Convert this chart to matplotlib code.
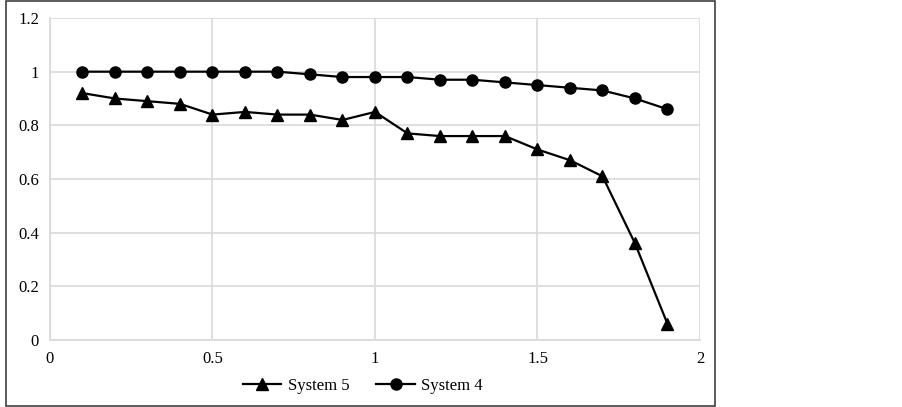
import matplotlib.pyplot as plt
from matplotlib.patches import Rectangle

# ------------------------------
# Data
# ------------------------------
x_vals = [0.1, 0.2, 0.3, 0.4, 0.5, 0.6, 0.7, 0.8, 0.9, 1.0,
          1.1, 1.2, 1.3, 1.4, 1.5, 1.6, 1.7, 1.8, 1.9]
system5 = [0.92, 0.90, 0.89, 0.88, 0.84, 0.85, 0.84, 0.84, 0.82, 0.85,
           0.77, 0.76, 0.76, 0.76, 0.71, 0.67, 0.61, 0.36, 0.06]
system4 = [1.00, 1.00, 1.00, 1.00, 1.00, 1.00, 1.00, 0.99, 0.98, 0.98,
           0.98, 0.97, 0.97, 0.96, 0.95, 0.94, 0.93, 0.90, 0.86]
x_ticks = [0, 0.5, 1, 1.5, 2]
y_ticks = [0, 0.2, 0.4, 0.6, 0.8, 1.0, 1.2]
y_labels = ["0", "0.2", "0.4", "0.6", "0.8", "1", "1.2"]
x_labels = ["0", "0.5", "1", "1.5", "2"]

plt.rcParams['font.family'] = ['Liberation Serif', 'DejaVu Serif']

fig = plt.figure(figsize=(9.03, 4.07), dpi=100)
ax = fig.add_axes([50 / 903, 67 / 407, 650 / 903, 322 / 407])

# chart border like the Excel chart area
fig.patches.append(Rectangle((6 / 903, 1 / 407), 709 / 903, 405 / 407,
                             transform=fig.transFigure, fill=False,
                             edgecolor='#404040', linewidth=1.2))

ax.plot(x_vals, system5, color='black', linewidth=1.6, marker='^',
        markersize=8.5, label='System 5', clip_on=False, zorder=3)
ax.plot(x_vals, system4, color='black', linewidth=1.6, marker='o',
        markersize=8, label='System 4', clip_on=False, zorder=3)

ax.set_xlim(0, 2)
ax.set_ylim(0, 1.2)
ax.set_xticks(x_ticks)
ax.set_xticklabels(x_labels)
ax.set_yticks(y_ticks)
ax.set_yticklabels(y_labels)
ax.grid(True, color='#d9d9d9', linewidth=1.2)
ax.set_axisbelow(True)
for side in ['top', 'right']:
    ax.spines[side].set_visible(False)
for side in ['left', 'bottom']:
    ax.spines[side].set_color('#d9d9d9')
    ax.spines[side].set_linewidth(1.2)
ax.tick_params(length=0, labelsize=12, colors='black', pad=8)
ax.tick_params(axis='x', pad=8)

fig.legend(loc='center', bbox_to_anchor=(363 / 903, 1 - 386 / 407),
           ncol=2, frameon=False, fontsize=12, handlelength=2.3,
           columnspacing=1.6, handletextpad=0.4)

fig.savefig("out.png", dpi=100)
